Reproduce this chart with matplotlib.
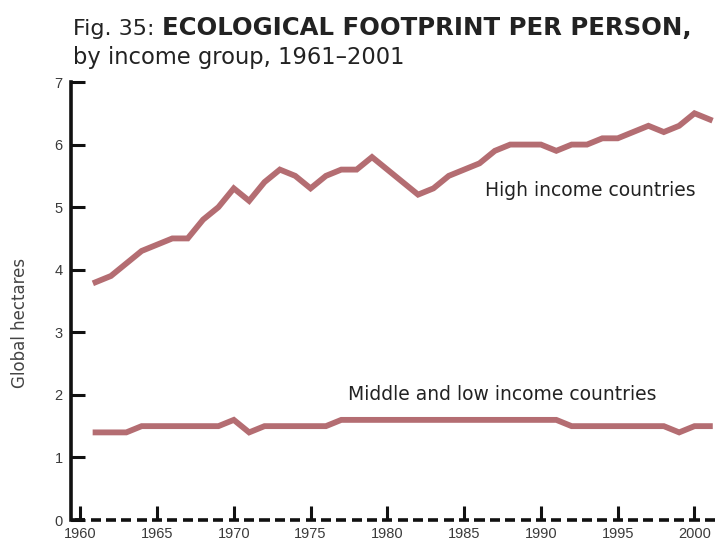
import numpy as np
import matplotlib.pyplot as plt

plt.rcParams['font.family'] = ['DejaVu Sans']

# Ecological footprint per person, global hectares
years = list(range(1961, 2002))
high_income = [3.8, 3.9, 4.1, 4.3, 4.4, 4.5, 4.5, 4.8, 5.0, 5.3,
               5.1, 5.4, 5.6, 5.5, 5.3, 5.5, 5.6, 5.6, 5.8, 5.6,
               5.4, 5.2, 5.3, 5.5, 5.6, 5.7, 5.9, 6.0, 6.0, 6.0,
               5.9, 6.0, 6.0, 6.1, 6.1, 6.2, 6.3, 6.2, 6.3, 6.5,
               6.4]
low_income = [1.4, 1.4, 1.4, 1.5, 1.5, 1.5, 1.5, 1.5, 1.5, 1.6,
              1.4, 1.5, 1.5, 1.5, 1.5, 1.5, 1.6, 1.6, 1.6, 1.6,
              1.6, 1.6, 1.6, 1.6, 1.6, 1.6, 1.6, 1.6, 1.6, 1.6,
              1.6, 1.5, 1.5, 1.5, 1.5, 1.5, 1.5, 1.5, 1.4, 1.5,
              1.5]
xticks = [1960, 1965, 1970, 1975, 1980, 1985, 1990, 1995, 2000]
yticks = [0, 1, 2, 3, 4, 5, 6, 7]

line_color = '#b46d72'
text_color = '#222222'

fig = plt.figure(figsize=(7.16, 5.53), dpi=100)
ax = fig.add_axes([71 / 716, 33 / 553, 645 / 716, 438 / 553])

ax.plot(years, high_income, color=line_color, linewidth=4.2, solid_joinstyle='miter')
ax.plot(years, low_income, color=line_color, linewidth=4.2, solid_joinstyle='miter')

ax.set_xlim(1959.4, 2001.4)
ax.set_ylim(0, 7)

for s in ['top', 'right', 'bottom']:
    ax.spines[s].set_visible(False)
ax.spines['left'].set_linewidth(2.6)
ax.spines['left'].set_color('#111111')

# dashed baseline, one dash per year
dash_years = np.arange(1960, 2002)
ax.hlines(np.zeros(len(dash_years)), dash_years - 0.33, dash_years + 0.33,
          color='#111111', linewidth=2.6, clip_on=False)
ax.hlines(0, 1959.4, 1960.33, color='#111111', linewidth=2.6, clip_on=False)

ax.set_xticks(xticks)
ax.set_yticks(yticks)
ax.tick_params(axis='both', direction='in', length=10, width=2.2, color='#111111',
               labelsize=10.5, labelcolor='#3a3a3a')
ax.tick_params(axis='y', pad=6)
ax.tick_params(axis='x', pad=5)
for lab in ax.get_xticklabels() + ax.get_yticklabels():
    lab.set_family(['Liberation Sans', 'DejaVu Sans'])

ax.set_ylabel('Global hectares', fontsize=12, color='#444444')
ax.yaxis.set_label_coords(-42 / 645, 197 / 438)

ax.text(485, 553 - 196, 'High income countries', fontsize=13.5, color=text_color,
        va='baseline', transform=None)
ax.text(348, 553 - 400, 'Middle and low income countries', fontsize=13.5,
        color=text_color, va='baseline', transform=None)

t1 = fig.text(73 / 716, 1 - 35 / 553, 'Fig. 35: ', fontsize=16, color=text_color,
              va='baseline')
fig.canvas.draw()
x_end = t1.get_window_extent().x1
fig.text(x_end / 716, 1 - 35 / 553, 'ECOLOGICAL FOOTPRINT PER PERSON,',
         fontsize=17.6, fontweight='bold', color=text_color, va='baseline')
fig.text(73 / 716, 1 - 64 / 553, 'by income group, 1961\u20132001', fontsize=16.3,
         color=text_color, va='baseline')

fig.savefig('out.png', dpi=100)
